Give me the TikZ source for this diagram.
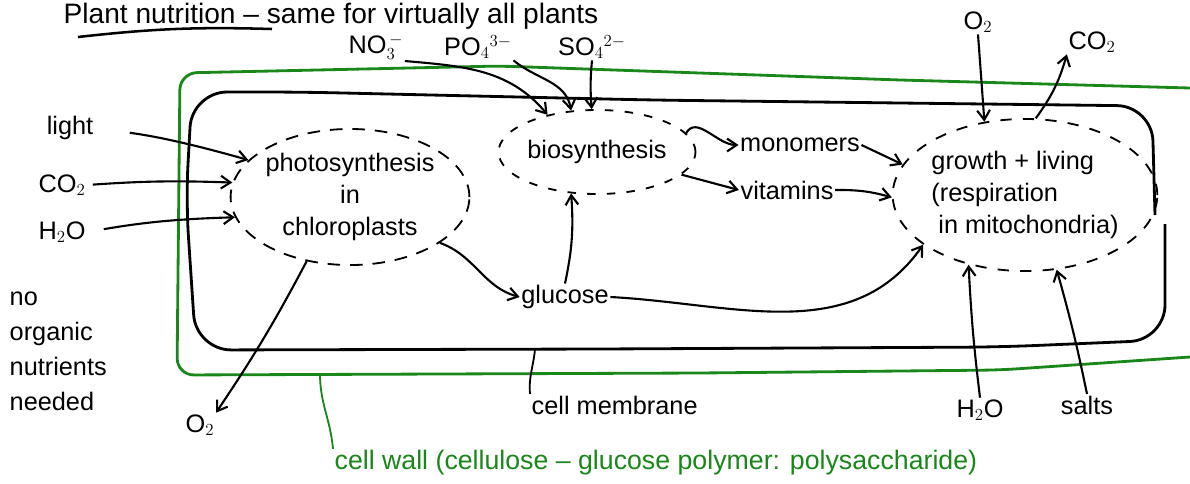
\documentclass[tikz,border=0pt]{standalone}
\usepackage{fontspec}
\setmainfont{Liberation Sans}
\usetikzlibrary{shapes.geometric,arrows.meta}
\definecolor{wallgreen}{RGB}{25,135,25}

\begin{document}
\begin{tikzpicture}[x=0.025cm, y=-0.025cm,
		txtstyle/.style={font=\fontsize{18}{22}\selectfont, inner sep=1pt, align=center},
		blobstyle/.style={draw, ellipse, line width=1.3pt, dash pattern=on 9pt off 7pt, inner sep=0pt, align=center, font=\fontsize{18}{23}\selectfont},
		flowstyle/.style={-{Straight Barb[length=2.4mm, width=3.2mm]}, line width=1.5pt},
		membranestyle/.style={line width=2pt, rounded corners=25},
		wallstyle/.style={line width=2pt, wallgreen, rounded corners=12}]

		\useasboundingbox (0,0) rectangle (1190,483);

		% title and underline
		\node [txtstyle, font=\fontsize{20}{24}\selectfont, anchor=west] (title) at (62,16) {Plant nutrition -- same for virtually all plants};
		\draw [line width=1.8pt] (78,37) to[bend left=4] (272,29);

		% cell wall and cell membrane
		\draw [wallstyle] (1190,88) -- (900,80) -- (500,66) -- (180,73) -- (177,375) -- (700,373) -- (1000,370) -- (1190,357);
		\draw [membranestyle] (1155,215) -- (1152,106) -- (650,100) -- (300,92) -- (192,92) -- (186,200) -- (196,350) -- (600,349) -- (1000,347) -- (1165,340) -- (1165,224);

		% compartments
		\node [blobstyle, minimum width=5.5cm, minimum height=3.4cm] (photo) at (350,197) {photosynthesis\\in\\chloroplasts};
		\node [blobstyle, dash pattern=on 6pt off 8pt, minimum width=4.6cm, minimum height=2.1cm] (bio) at (597,152) {biosynthesis};
		\node [blobstyle, dash pattern=on 8pt off 8pt, minimum width=6cm, minimum height=3.8cm, align=left] (growth) at (1025,195) {growth + living\\(respiration\\\ in mitochondria)};

		% inputs and outputs
		\node [txtstyle] (light) at (70,128) {light};
		\node [txtstyle] (coin) at (62,185) {CO$_2$};
		\node [txtstyle] (waterin) at (62,232) {H$_2$O};
		\node [txtstyle] (nitrate) at (376,47) {NO$_3^{\,-}$};
		\node [txtstyle] (phosphate) at (478,47) {PO$_4{}^{3-}$};
		\node [txtstyle] (sulfate) at (592,47) {SO$_4{}^{2-}$};
		\node [txtstyle] (oxin) at (978,22) {O$_2$};
		\node [txtstyle] (coout) at (1092,42) {CO$_2$};
		\node [txtstyle] (monomers) at (800,145) {monomers};
		\node [txtstyle] (vitamins) at (787,190) {vitamins};
		\node [txtstyle] (glucose) at (565,297) {glucose};
		\node [txtstyle] (oxout) at (200,425) {O$_2$};
		\node [txtstyle] (waterout) at (980,410) {H$_2$O};
		\node [txtstyle] (salts) at (1087,405) {salts};
		\node [txtstyle, anchor=west] (cellmem) at (530,405) {cell membrane};
		\node [txtstyle, align=left, anchor=north west, font=\fontsize{18}{25}\selectfont] (noorganic) at (8,290) {no\\organic\\nutrients\\needed};
		\node [txtstyle, anchor=west, wallgreen, font=\fontsize{19}{22}\selectfont] (wall) at (333,463) {cell wall (cellulose -- glucose polymer: polysaccharide)};

		\coordinate (membpt) at (535,349);
		\coordinate (wallpt) at (320,374);

		% flows
		\draw [flowstyle, shorten <=25pt] (light.east) to[bend left=4] (photo.160);
		\draw [flowstyle, shorten <=4pt] (coin.east) to[bend left=3] (photo.173);
		\draw [flowstyle, shorten <=12pt] (waterin.east) to[bend left=4] (photo.190);
		\draw [flowstyle] (nitrate.south east) to[out=-5, in=130] (bio.143);
		\draw [flowstyle] (phosphate.south east) to[out=-40, in=100] (bio.122);
		\draw [flowstyle] (sulfate.south) to[bend right=5] (bio.97);
		\draw [flowstyle] (bio.12) to[out=60, in=180] (monomers.west);
		\draw [flowstyle] (bio.-15) -- (vitamins.west);
		\draw [flowstyle] (monomers.east) -- (growth.166);
		\draw [flowstyle] (vitamins.east) to[bend left=8] (growth.181);
		\draw [flowstyle] (glucose.north) to[bend right=8] (bio.238);
		\draw [flowstyle] (photo.-27) to[out=-20, in=165] (glucose.west);
		\draw [flowstyle] (glucose.east) to[out=-3, in=235] (growth.206);
		\draw [flowstyle] (photo.236) to[bend left=3] (oxout.north east);
		\draw [flowstyle] (oxin.south) -- (growth.119);
		\draw [flowstyle] (growth.82) to[bend right=10] (coout.south west);
		\draw [flowstyle] (waterout.north) to[bend left=2] (growth.231);
		\draw [flowstyle] (salts.north) to[bend right=2] (growth.293);

		% labels of the two boundaries
		\draw [line width=1.3pt] (membpt) to[out=-95, in=95] (cellmem.north west);
		\draw [line width=1.3pt, wallgreen] (wallpt) to[out=-90, in=95] (wall.north west);

\end{tikzpicture}
\end{document}
